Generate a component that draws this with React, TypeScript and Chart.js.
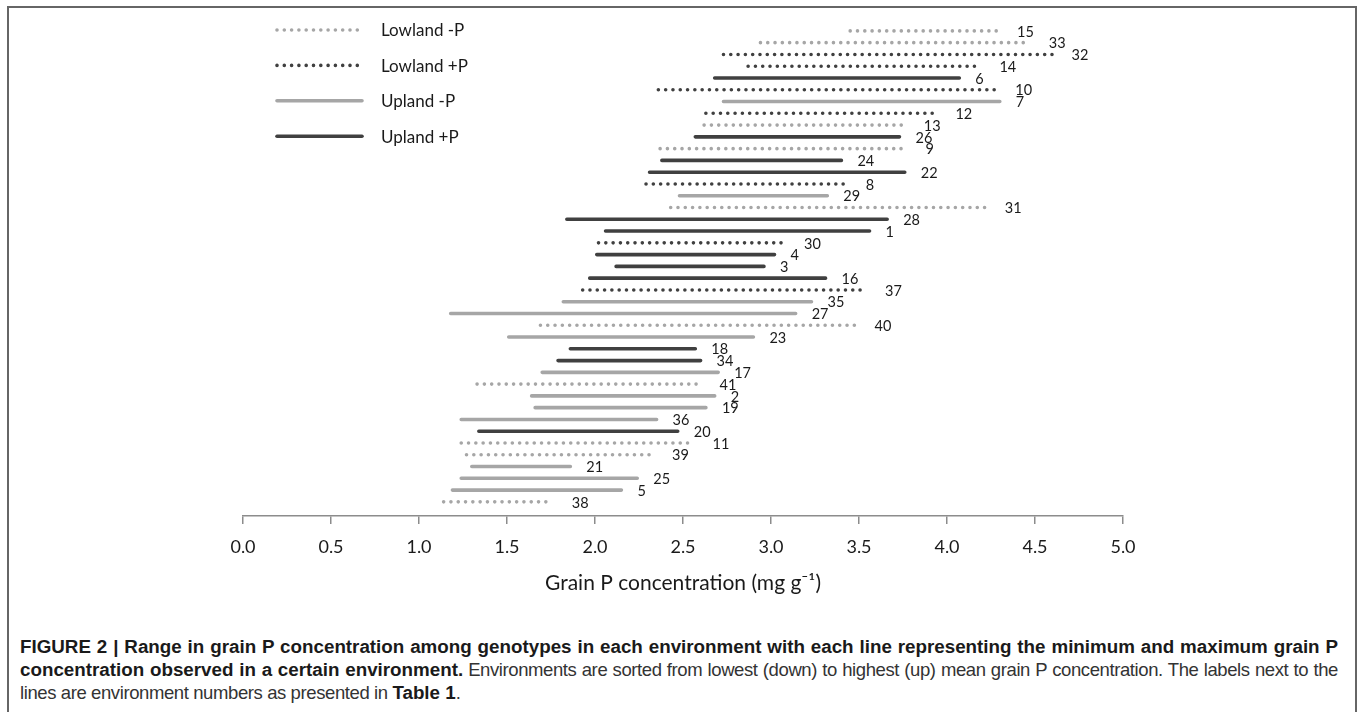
import React, { useEffect, useRef } from "react";
import { Chart, registerables } from "chart.js";

Chart.register(...registerables);

// Environment numbers, top row to bottom row
const envLabels = ["15","33","32","14","6","10","7","12","13","26","9","24","22","8","29","31","28","1","30","4","3","16","37","35","27","40","23","18","34","17","41","2","19","36","20","11","39","21","25","5","38"];

// Group of each row: LM = Lowland -P, LP = Lowland +P, UM = Upland -P, UP = Upland +P
const envGroups = ["LM","LM","LP","LP","UP","LP","UM","LP","LM","UP","LM","UP","UP","LP","UM","LM","UP","UP","LP","UP","UP","UP","LP","UM","UM","LM","UM","UP","UP","UM","LM","UM","UM","UM","UP","LM","LM","UM","UM","UM","LM"];

// Minimum grain P (mg g-1)
const minValues = [3.45,2.94,2.73,2.87,2.68,2.36,2.73,2.63,2.62,2.57,2.37,2.38,2.31,2.29,2.48,2.43,1.84,2.06,2.02,2.01,2.12,1.97,1.93,1.82,1.18,1.69,1.51,1.86,1.79,1.70,1.33,1.64,1.66,1.24,1.34,1.24,1.27,1.30,1.24,1.19,1.14];

// Maximum grain P (mg g-1)
const maxValues = [4.29,4.47,4.60,4.19,4.07,4.28,4.30,3.94,3.76,3.73,3.77,3.40,3.76,3.43,3.32,4.22,3.66,3.56,3.08,3.02,2.96,3.31,3.54,3.23,3.14,3.48,2.90,2.57,2.60,2.70,2.60,2.68,2.63,2.35,2.47,2.56,2.33,1.86,2.24,2.15,1.76];

const seriesCodes = ["LM", "LP", "UM", "UP"];
const seriesNames = ["Lowland -P", "Lowland +P", "Upland -P", "Upland +P"];

const tickValues = [0, 0.5, 1, 1.5, 2, 2.5, 3, 3.5, 4, 4.5, 5];

const axisTitle = "Grain P concentration (mg g\u207B\u00B9)";

const LIGHT = "#a6a6a6";
const DARK = "#404040";
const FONT = "Lato";

const seriesStyle: Record<string, { color: string; dotted: boolean }> = {
  LM: { color: LIGHT, dotted: true },
  LP: { color: DARK, dotted: true },
  UM: { color: LIGHT, dotted: false },
  UP: { color: DARK, dotted: false },
};

const DOT_DASH = [0, 7.3];

const rangeLabelsPlugin = {
  id: "rangeLabels",
  afterDatasetsDraw(chart: any) {
    const ctx = chart.ctx;
    ctx.save();
    ctx.font = `14.5px ${FONT}`;
    ctx.fillStyle = "#1a1a1a";
    ctx.textBaseline = "middle";
    ctx.textAlign = "left";
    chart.data.datasets.forEach((ds: any, di: number) => {
      const meta = chart.getDatasetMeta(di);
      const rows: number[] = ds.rows;
      rows.forEach((row: number, k: number) => {
        const pt = meta.data[k * 3 + 1];
        if (!pt) return;
        const off = ds.dotted ? 19 : 16;
        ctx.fillText(envLabels[row], pt.x + off, pt.y + 1);
      });
    });
    ctx.restore();
  },
};

const legendPlugin = {
  id: "customLegend",
  afterDraw(chart: any) {
    const ctx = chart.ctx;
    ctx.save();
    chart.data.datasets.forEach((ds: any, i: number) => {
      const y = 30 + i * 35.4;
      ctx.beginPath();
      ctx.strokeStyle = ds.borderColor;
      ctx.lineWidth = ds.borderWidth;
      ctx.lineCap = "round";
      ctx.setLineDash(ds.borderDash || []);
      ctx.moveTo(277, y);
      ctx.lineTo(362, y);
      ctx.stroke();
      ctx.setLineDash([]);
      ctx.font = `17px ${FONT}`;
      ctx.fillStyle = "#1a1a1a";
      ctx.textBaseline = "middle";
      ctx.textAlign = "left";
      ctx.fillText(ds.label, 381, y + 1);
    });
    ctx.restore();
  },
};

function RangeChart() {
  const ref = useRef<HTMLCanvasElement | null>(null);
  useEffect(() => {
    if (!ref.current) return;
    const datasets = seriesCodes.map((code, si) => {
      const st = seriesStyle[code];
      const data: any[] = [];
      const rows: number[] = [];
      envGroups.forEach((g, i) => {
        if (g !== code) return;
        rows.push(i);
        data.push({ x: minValues[i], y: i });
        data.push({ x: maxValues[i], y: i });
        data.push({ x: maxValues[i], y: null });
      });
      return {
        label: seriesNames[si],
        data,
        rows,
        dotted: st.dotted,
        borderColor: st.color,
        backgroundColor: st.color,
        borderWidth: 3.6,
        borderDash: st.dotted ? DOT_DASH : [],
        borderCapStyle: "round",
        pointRadius: 0,
        pointHoverRadius: 0,
        spanGaps: false,
        fill: false,
        tension: 0,
      };
    });
    const chart = new Chart(ref.current, {
      type: "line",
      data: { datasets } as any,
      options: {
        animation: false,
        responsive: false,
        maintainAspectRatio: false,
        events: [],
        layout: { padding: { left: 243, right: 237, top: 25, bottom: 0 } },
        plugins: {
          legend: { display: false },
          tooltip: { enabled: false },
          title: { display: false },
        },
        scales: {
          x: {
            type: "linear",
            position: "bottom",
            min: 0,
            max: 5,
            afterBuildTicks: (scale: any) => {
              scale.ticks = tickValues.map((v) => ({ value: v }));
            },
            ticks: {
              callback: (v: any) => Number(v).toFixed(1),
              font: { family: FONT, size: 18 },
              color: "#1a1a1a",
              padding: 12,
              maxRotation: 0,
              autoSkip: false,
            },
            grid: {
              drawOnChartArea: false,
              drawTicks: true,
              tickLength: 8,
              color: "#8c8c8c",
              lineWidth: 1.5,
            },
            border: { display: true, color: "#8c8c8c", width: 1.5 },
            title: {
              display: true,
              text: axisTitle,
              font: { family: FONT, size: 21 },
              color: "#1a1a1a",
              padding: { top: 4, bottom: 32 },
            },
            afterFit: (scale: any) => {
              scale.height = 112;
            },
          },
          y: {
            type: "linear",
            display: false,
            reverse: true,
            min: -0.5,
            max: 41.2,
          },
        },
      } as any,
      plugins: [rangeLabelsPlugin, legendPlugin],
    });
    return () => chart.destroy();
  }, []);
  return (
    <canvas
      ref={ref}
      width={1360}
      height={628}
      style={{ position: "absolute", left: 0, top: 0, width: 1360, height: 628, display: "block" }}
    />
  );
}

export default function App() {
  const base: React.CSSProperties = {
    position: "absolute",
    left: 20,
    fontFamily: "'Liberation Sans', Arial, sans-serif",
    lineHeight: "23px",
    color: "#333",
    whiteSpace: "nowrap",
  };
  const justified: React.CSSProperties = {
    ...base,
    width: 1318,
    textAlign: "justify",
    textAlignLast: "justify" as any,
  };
  const bold: React.CSSProperties = { fontWeight: 700, fontSize: 18.8, color: "#1a1a1a" };
  const reg: React.CSSProperties = { fontWeight: 400, fontSize: 18.5, letterSpacing: "-0.4px" };
  return (
    <div style={{ position: "fixed", left: 0, top: 0, width: 1360, height: 712, overflow: "hidden", background: "#fff" }}>
      <div
        style={{
          position: "absolute",
          left: 7,
          top: 6,
          width: 1350,
          height: 730,
          boxSizing: "border-box",
          border: "2px solid #666",
          borderBottom: "none",
        }}
      />
      <RangeChart />
      <div style={{ ...justified, top: 635 }}>
        <span style={bold}>
          FIGURE 2 | Range in grain P concentration among genotypes in each environment with each line representing the minimum and maximum grain P
        </span>
      </div>
      <div style={{ ...justified, top: 658 }}>
        <span style={bold}>concentration observed in a certain environment.</span>{" "}
        <span style={reg}>
          Environments are sorted from lowest (down) to highest (up) mean grain P concentration. The labels next to the
        </span>
      </div>
      <div style={{ ...base, top: 681 }}>
        <span style={reg}>lines are environment numbers as presented in </span>
        <span style={bold}>Table 1</span>
        <span style={reg}>.</span>
      </div>
    </div>
  );
}
